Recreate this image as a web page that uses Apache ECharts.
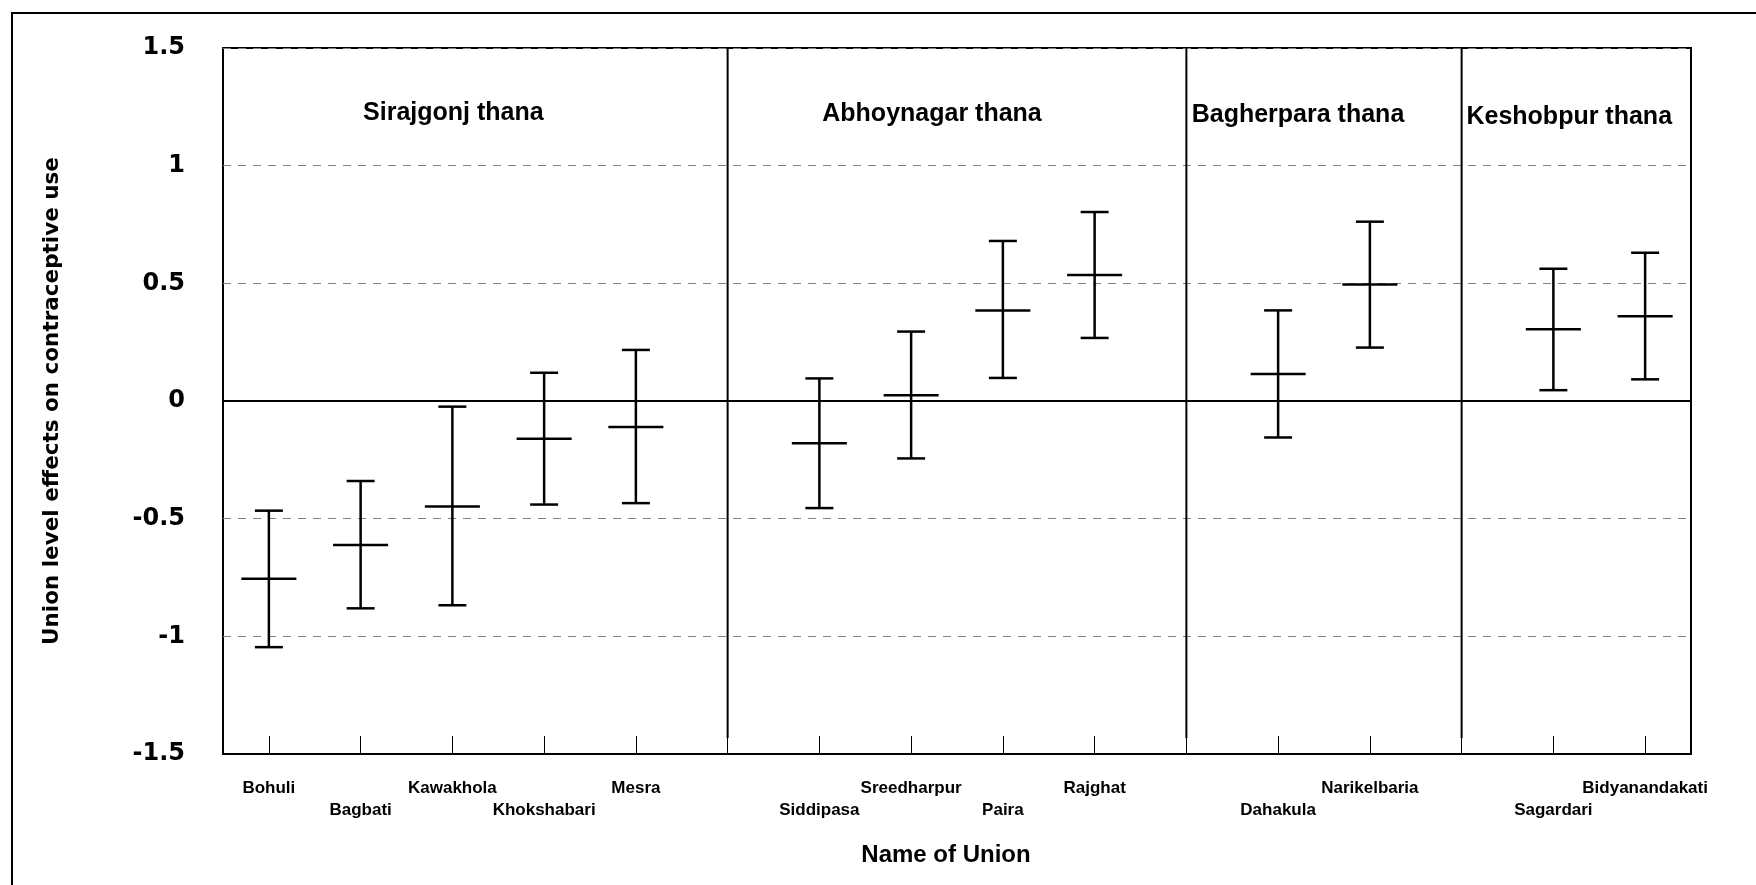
<!DOCTYPE html>
<html>
<head>
<meta charset="utf-8">
<script src="https://cdn.jsdelivr.net/npm/echarts@6/dist/echarts.min.js"></script>
<style>html,body{margin:0;padding:0;background:#fff}#c{width:1756px;height:885px}</style>
</head>
<body>
<div id="c"></div>
<script>
// ---- data ----
const thanas = ['Sirajgonj thana', 'Abhoynagar thana', 'Bagherpara thana', 'Keshobpur thana'];
const unions = ['Bohuli', 'Bagbati', 'Kawakhola', 'Khokshabari', 'Mesra',
                'Siddipasa', 'Sreedharpur', 'Paira', 'Rajghat',
                'Dahakula', 'Narikelbaria',
                'Sagardari', 'Bidyanandakati'];
const unionThana = [0, 0, 0, 0, 0, 1, 1, 1, 1, 2, 2, 3, 3];
const estimate = [-0.755, -0.612, -0.448, -0.160, -0.110, -0.180, 0.024, 0.385, 0.535, 0.115, 0.495, 0.305, 0.360];
const lower    = [-1.046, -0.881, -0.868, -0.440, -0.434, -0.455, -0.244, 0.098, 0.268, -0.155, 0.227, 0.046, 0.092];
const upper    = [-0.466, -0.340, -0.024, 0.120, 0.217, 0.096, 0.295, 0.680, 0.803, 0.385, 0.762, 0.562, 0.630];
const yTicks = [-1.5, -1, -0.5, 0, 0.5, 1, 1.5];

// ---- build category slots (an empty slot separates thanas) ----
const categories = [];
const barData = [];
const dividerData = [];
const labelRow = {};
const thanaSlots = thanas.map(() => []);
unions.forEach((u, i) => {
  if (i > 0 && unionThana[i] !== unionThana[i - 1]) {
    dividerData.push([categories.length, yTicks[yTicks.length - 1]]);
    categories.push('#div' + categories.length);
  }
  thanaSlots[unionThana[i]].push(categories.length);
  barData.push([categories.length, lower[i], estimate[i], upper[i]]);
  labelRow[categories.length] = i % 2;
  categories.push(u);
});

const FONT = '"Liberation Sans", Arial, sans-serif';
const WIDE = '"DejaVu Sans", sans-serif';
const chart = echarts.init(document.getElementById('c'), null, {renderer: 'canvas'});

const option = {
  animation: false,
  backgroundColor: '#fff',
  grid: {left: 223, right: 65, top: 48, height: 706, show: true, borderColor: '#000', borderWidth: 2, backgroundColor: 'transparent'},
  xAxis: {
    type: 'category',
    data: categories,
    boundaryGap: true,
    name: 'Name of Union',
    nameLocation: 'middle',
    nameGap: 89,
    nameTextStyle: {fontFamily: FONT, fontSize: 24, fontWeight: 'bold', color: '#000', padding: [0, 22, 0, 0]},
    axisLine: {show: true, onZero: false, lineStyle: {color: '#000', width: 2}},
    axisTick: {show: true, inside: true, length: 18, alignWithLabel: true, interval: 0, lineStyle: {color: '#000', width: 1}},
    axisLabel: {
      interval: 0,
      margin: 23,
      fontFamily: FONT, fontSize: 17, fontWeight: 'bold', color: '#000', lineHeight: 22,
      formatter: (v, idx) => {
        if (v.indexOf('#div') === 0) return '';
        return labelRow[idx] === 1 ? '\n' + v : v;
      }
    },
    splitLine: {show: false}
  },
  yAxis: {
    type: 'value',
    min: yTicks[0],
    max: yTicks[yTicks.length - 1],
    interval: 0.5,
    name: 'Union level effects on contraceptive use',
    nameLocation: 'middle',
    nameGap: 160,
    nameTextStyle: {fontFamily: WIDE, fontSize: 21.5, fontWeight: 'bold', color: '#000'},
    axisLine: {show: false},
    axisTick: {show: false},
    axisLabel: {margin: 38, fontFamily: WIDE, fontSize: 24, fontWeight: 'bold', color: '#000'},
    splitLine: {show: true, lineStyle: {color: '#808080', width: 1, type: [8, 7]}}
  },
  series: [
    {
      type: 'custom',
      name: 'dividers',
      silent: true,
      data: dividerData,
      encode: {x: 0, y: 1},
      renderItem: (params, api) => {
        const top = api.coord([api.value(0), yTicks[yTicks.length - 1]]);
        const bot = api.coord([api.value(0), yTicks[0]]);
        return {type: 'line', shape: {x1: top[0], y1: top[1], x2: bot[0], y2: bot[1] - 16},
                style: {stroke: '#000', lineWidth: 2}};
      },
      z: 3
    },
    {
      type: 'custom',
      name: 'Union effect',
      data: barData,
      encode: {x: 0, y: [1, 2, 3]},
      renderItem: (params, api) => {
        const x = api.value(0);
        const pl = api.coord([x, api.value(1)]);
        const pe = api.coord([x, api.value(2)]);
        const ph = api.coord([x, api.value(3)]);
        const band = api.size([1, 0])[0];
        const cap = band * 0.305 / 2;
        const mid = band * 0.60 / 2;
        const st = {stroke: '#000', lineWidth: 2.5};
        return {type: 'group', children: [
          {type: 'line', shape: {x1: pl[0], y1: pl[1], x2: ph[0], y2: ph[1]}, style: st},
          {type: 'line', shape: {x1: pl[0] - cap, y1: pl[1], x2: pl[0] + cap, y2: pl[1]}, style: st},
          {type: 'line', shape: {x1: ph[0] - cap, y1: ph[1], x2: ph[0] + cap, y2: ph[1]}, style: st},
          {type: 'line', shape: {x1: pe[0] - mid, y1: pe[1], x2: pe[0] + mid, y2: pe[1]}, style: st}
        ]};
      },
      markLine: {
        silent: true, symbol: 'none', label: {show: false},
        lineStyle: {color: '#000', width: 2, type: 'solid'},
        data: [{yAxis: 0}]
      },
      z: 4
    }
  ]
};
chart.setOption(option);

// thana headings + outer frame
const thanaOffset = [1, -25, -26, -30];
const thanaY = [113, 114, 115, 117];
const graphics = [
  {type: 'line', shape: {x1: 12, y1: 12, x2: 12, y2: 885}, style: {stroke: '#000', lineWidth: 2}},
  {type: 'line', shape: {x1: 12, y1: 13, x2: 1756, y2: 13}, style: {stroke: '#000', lineWidth: 2}}
];
thanas.forEach((t, k) => {
  const s = thanaSlots[k];
  const a = chart.convertToPixel({xAxisIndex: 0}, s[0]);
  const b = chart.convertToPixel({xAxisIndex: 0}, s[s.length - 1]);
  const cx = (a + b) / 2;
  graphics.push({type: 'text', x: cx + thanaOffset[k], y: thanaY[k],
    style: {text: t, fontFamily: FONT, fontSize: 25, fontWeight: 'bold', fill: '#000', textAlign: 'center', textVerticalAlign: 'middle'}});
});
chart.setOption({graphic: graphics});
</script>
</body>
</html>
